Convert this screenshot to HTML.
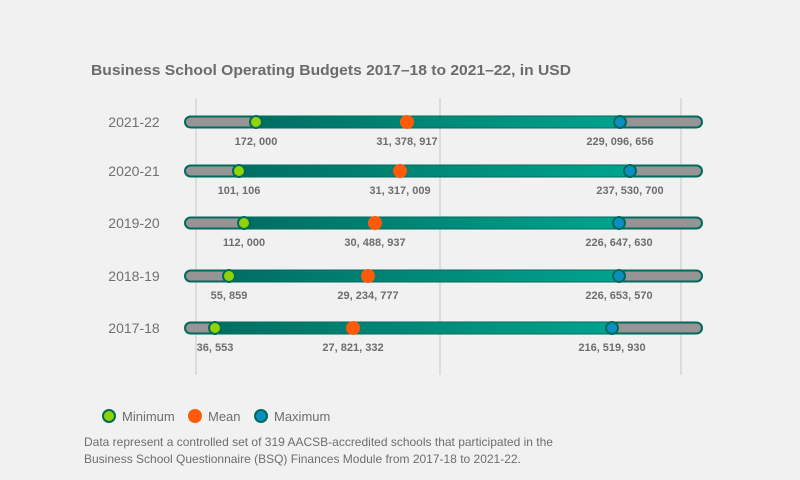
<!DOCTYPE html>
<html><head><style>
body{margin:0;background:#f1f1f1;}
svg{display:block;font-family:"Liberation Sans",sans-serif;}
</style></head><body>
<svg width="800" height="480" viewBox="0 0 800 480">
<defs>
<linearGradient id="g" x1="0" x2="1" y1="0" y2="0">
<stop offset="0" stop-color="#006e62"/><stop offset="1" stop-color="#00a38e"/>
</linearGradient>
</defs>
<rect width="800" height="480" fill="#f1f1f1"/>
<text x="91" y="75" font-size="15" font-weight="bold" fill="#6b6b6b" textLength="480" lengthAdjust="spacingAndGlyphs">Business School Operating Budgets 2017–18 to 2021–22, in USD</text>
<g stroke="#c8c8c8" stroke-width="1">
<line x1="196" y1="98" x2="196" y2="375"/>
<line x1="440" y1="98" x2="440" y2="375"/>
<line x1="681" y1="98" x2="681" y2="375"/>
</g>
<g font-size="11" font-weight="bold" fill="#6d6d6d" text-anchor="middle">

<rect x="185" y="116.5" width="517" height="11" rx="5.5" fill="#969494" stroke="#006b5d" stroke-width="2"/>
<rect x="256" y="116.5" width="364" height="11" fill="url(#g)"/>
<circle cx="256" cy="122" r="6" fill="#8fd400" stroke="#006b5d" stroke-width="2"/>
<circle cx="407" cy="122" r="7" fill="#ff5a0a"/>
<circle cx="620" cy="122" r="6" fill="#0a8fc0" stroke="#006b5d" stroke-width="2"/>
<text x="134" y="127" font-size="14" font-weight="normal" fill="#707070">2021-22</text>
<text x="256" y="145">172, 000</text>
<text x="407" y="145">31, 378, 917</text>
<text x="620" y="145">229, 096, 656</text>

<rect x="185" y="165.5" width="517" height="11" rx="5.5" fill="#969494" stroke="#006b5d" stroke-width="2"/>
<rect x="239" y="165.5" width="391" height="11" fill="url(#g)"/>
<circle cx="239" cy="171" r="6" fill="#8fd400" stroke="#006b5d" stroke-width="2"/>
<circle cx="400" cy="171" r="7" fill="#ff5a0a"/>
<circle cx="630" cy="171" r="6" fill="#0a8fc0" stroke="#006b5d" stroke-width="2"/>
<text x="134" y="176" font-size="14" font-weight="normal" fill="#707070">2020-21</text>
<text x="239" y="194">101, 106</text>
<text x="400" y="194">31, 317, 009</text>
<text x="630" y="194">237, 530, 700</text>

<rect x="185" y="217.5" width="517" height="11" rx="5.5" fill="#969494" stroke="#006b5d" stroke-width="2"/>
<rect x="244" y="217.5" width="375" height="11" fill="url(#g)"/>
<circle cx="244" cy="223" r="6" fill="#8fd400" stroke="#006b5d" stroke-width="2"/>
<circle cx="375" cy="223" r="7" fill="#ff5a0a"/>
<circle cx="619" cy="223" r="6" fill="#0a8fc0" stroke="#006b5d" stroke-width="2"/>
<text x="134" y="228" font-size="14" font-weight="normal" fill="#707070">2019-20</text>
<text x="244" y="246">112, 000</text>
<text x="375" y="246">30, 488, 937</text>
<text x="619" y="246">226, 647, 630</text>

<rect x="185" y="270.5" width="517" height="11" rx="5.5" fill="#969494" stroke="#006b5d" stroke-width="2"/>
<rect x="229" y="270.5" width="390" height="11" fill="url(#g)"/>
<circle cx="229" cy="276" r="6" fill="#8fd400" stroke="#006b5d" stroke-width="2"/>
<circle cx="368" cy="276" r="7" fill="#ff5a0a"/>
<circle cx="619" cy="276" r="6" fill="#0a8fc0" stroke="#006b5d" stroke-width="2"/>
<text x="134" y="281" font-size="14" font-weight="normal" fill="#707070">2018-19</text>
<text x="229" y="299">55, 859</text>
<text x="368" y="299">29, 234, 777</text>
<text x="619" y="299">226, 653, 570</text>

<rect x="185" y="322.5" width="517" height="11" rx="5.5" fill="#969494" stroke="#006b5d" stroke-width="2"/>
<rect x="215" y="322.5" width="397" height="11" fill="url(#g)"/>
<circle cx="215" cy="328" r="6" fill="#8fd400" stroke="#006b5d" stroke-width="2"/>
<circle cx="353" cy="328" r="7" fill="#ff5a0a"/>
<circle cx="612" cy="328" r="6" fill="#0a8fc0" stroke="#006b5d" stroke-width="2"/>
<text x="134" y="333" font-size="14" font-weight="normal" fill="#707070">2017-18</text>
<text x="215" y="351">36, 553</text>
<text x="353" y="351">27, 821, 332</text>
<text x="612" y="351">216, 519, 930</text>
</g>
<circle cx="109" cy="416" r="6" fill="#8fd400" stroke="#006b5d" stroke-width="2"/>
<text x="122" y="421" font-size="13" fill="#6d6d6d">Minimum</text>
<circle cx="195" cy="416" r="7" fill="#ff5a0a"/>
<text x="208" y="421" font-size="13" fill="#6d6d6d">Mean</text>
<circle cx="261" cy="416" r="6" fill="#0a8fc0" stroke="#006b5d" stroke-width="2"/>
<text x="274" y="421" font-size="13" fill="#6d6d6d">Maximum</text>
<text x="84" y="446" font-size="12" fill="#6d6d6d">Data represent a controlled set of 319 AACSB-accredited schools that participated in the</text>
<text x="84" y="463" font-size="12" fill="#6d6d6d">Business School Questionnaire (BSQ) Finances Module from 2017-18 to 2021-22.</text>
</svg>
</body></html>
